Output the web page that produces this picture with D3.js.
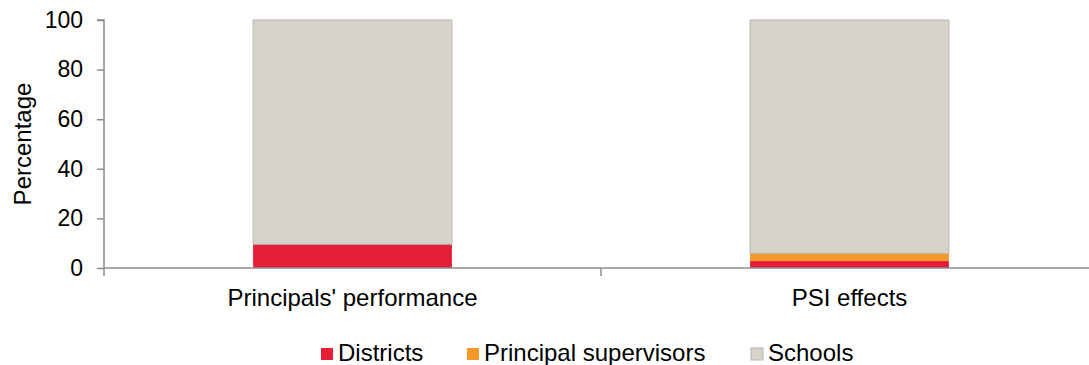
<!DOCTYPE html>
<html>
<head>
<meta charset="utf-8">
<script src="https://cdn.jsdelivr.net/npm/d3@7"></script>
<style>
  html, body { margin: 0; padding: 0; background: #fff; }
  text { font-family: "Liberation Sans", Arial, sans-serif; fill: #000; }
</style>
</head>
<body>
<svg id="chart" width="1089" height="365"></svg>
<script>
// Categories and stacked shares (percent)
const categories = ["Principals' performance", "PSI effects"];
const seriesNames = ["Districts", "Principal supervisors", "Schools"];
const districts = [9.6, 2.8];
const supervisors = [0, 3.1];
const schools = [90.4, 94.1];
const yTicks = [0, 20, 40, 60, 80, 100];
const colors = ["#E61E38", "#F4982A", "#D7D3C8"];

const svg = d3.select("#chart");
const margin = { left: 104, top: 20, right: -9, bottom: 97 };
const W = 1089, H = 365;
const plotBottom = H - margin.bottom; // 268

const x = d3.scaleBand().domain(categories)
  .range([margin.left, W - margin.right]).paddingInner(0).paddingOuter(0);
const y = d3.scaleLinear().domain([0, 100]).range([plotBottom, margin.top]);

const rows = categories.map((c, i) => ({
  cat: c, "Districts": districts[i], "Principal supervisors": supervisors[i], "Schools": schools[i]
}));
const stacked = d3.stack().keys(seriesNames)(rows);

const barW = x.bandwidth() * 0.4;

stacked.forEach((layer, li) => {
  svg.append("g").selectAll("rect").data(layer).join("rect")
    .attr("x", d => x(d.data.cat) + (x.bandwidth() - barW) / 2)
    .attr("y", d => y(d[1]))
    .attr("width", barW)
    .attr("height", d => Math.max(0, y(d[0]) - y(d[1])))
    .attr("fill", colors[li])
    .attr("stroke", li === 2 ? "#B8B6B0" : "none")
    .attr("stroke-width", li === 2 ? 1 : 0);
});

// Y axis
const yAxis = svg.append("g").attr("transform", `translate(${margin.left},0)`)
  .call(d3.axisLeft(y).tickValues(yTicks).tickSize(7).tickPadding(14));
yAxis.select(".domain").attr("stroke", "#8C8C8C").attr("stroke-width", 1.5)
  .attr("d", `M-7,${margin.top}H0V${plotBottom}`);
yAxis.selectAll(".tick line").attr("stroke", "#8C8C8C").attr("stroke-width", 1.5);
yAxis.selectAll(".tick text").style("font-size", "23px").attr("fill", "#000")
  .attr("font-family", null);

// X axis with category boundary ticks
const xAxis = svg.append("g").attr("transform", `translate(0,${plotBottom})`);
xAxis.append("line").attr("x1", margin.left).attr("x2", W)
  .attr("y1", 0).attr("y2", 0).attr("stroke", "#8C8C8C").attr("stroke-width", 1.5);
const boundaries = categories.map(c => x(c));
xAxis.selectAll("line.bt").data(boundaries).join("line").attr("class", "bt")
  .attr("x1", d => d).attr("x2", d => d).attr("y1", 0).attr("y2", 8)
  .attr("stroke", "#8C8C8C").attr("stroke-width", 1.5);
xAxis.selectAll("text").data(categories).join("text")
  .attr("x", d => x(d) + x.bandwidth() / 2)
  .attr("y", 38)
  .attr("text-anchor", "middle")
  .style("font-size", "24px")
  .text(d => d);

// Y axis title
svg.append("text")
  .attr("transform", `translate(31,${(margin.top + plotBottom) / 2}) rotate(-90)`)
  .attr("text-anchor", "middle")
  .style("font-size", "24px")
  .text("Percentage");

// Legend
const legendX = [321, 467, 751];
const legend = svg.append("g");
seriesNames.forEach((name, i) => {
  legend.append("rect").attr("x", legendX[i]).attr("y", 348)
    .attr("width", 12).attr("height", 12).attr("fill", colors[i])
    .attr("stroke", i === 2 ? "#B8B6B0" : "none");
  legend.append("text").attr("x", legendX[i] + 17).attr("y", 361)
    .style("font-size", "24px").text(name);
});
</script>
</body>
</html>
